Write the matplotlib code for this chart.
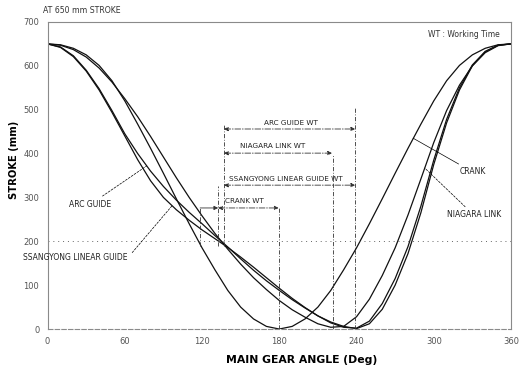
import matplotlib
matplotlib.use("Agg")
import matplotlib.pyplot as plt

# ---------------- data ----------------
angle = [0, 10, 20, 30, 40, 50, 60, 70, 80, 90, 100, 110, 120, 130, 140, 150, 160, 170,
         180, 190, 200, 210, 220, 230, 240, 250, 260, 270, 280, 290, 300, 310, 320, 330,
         340, 350, 360]
crank = [650, 648, 640, 625, 601, 566, 520, 467, 412, 355, 297, 240, 185, 135, 88, 50, 23, 6,
         0, 6, 23, 50, 88, 135, 185, 240, 297, 355, 412, 467, 520, 566, 601, 625,
         640, 648, 650]
niagara = [650, 647, 637, 620, 595, 563, 525, 484, 439, 392, 345, 300, 258, 218, 182, 148, 117, 90,
           65, 44, 27, 12, 4, 6, 28, 68, 122, 185, 260, 342, 425, 498, 556, 600,
           630, 646, 650]
arc_guide = [650, 643, 623, 590, 548, 498, 445, 400, 360, 325, 294, 266, 240, 213, 187, 160, 134, 110,
             88, 67, 48, 30, 16, 6, 1, 12, 45, 100, 172, 265, 375, 470, 545, 600,
             632, 647, 650]
ssangyong = [650, 642, 621, 588, 545, 494, 440, 386, 338, 300, 272, 248, 226, 206, 186, 164, 141, 117,
             93, 70, 49, 30, 14, 4, 2, 18, 58, 115, 188, 280, 385, 478, 550, 602,
             633, 647, 650]

x_ticks = [0, 60, 120, 180, 240, 300, 360]
y_ticks = [0, 100, 200, 300, 400, 500, 600, 700]

# working-time dimensions: (label, start deg, end deg, line level mm, label x deg, label level mm)
wt_dims = [("ARC GUIDE WT", 137, 239, 456, 189, 462),
           ("NIAGARA LINK WT", 137, 221, 401, 175, 410),
           ("SSANGYONG LINEAR GUIDE WT", 137, 239, 328, 185, 336),
           ("CRANK WT", 132.5, 179.5, 276, 153, 286)]
# vertical extension lines: (deg, bottom mm, top mm)
ext_lines = [(118.5, 190, 276), (132.5, 190, 325), (137, 190, 466),
             (180, 0, 276), (221.5, 0, 398), (239, 0, 505)]

# ---------------- figure ----------------
fig = plt.figure(figsize=(5.23, 3.66), dpi=100)
ax = fig.add_axes([0.091, 0.101, 0.886, 0.839])
ax.set_xlim(0, 360)
ax.set_ylim(0, 700)

lc = "#111111"
for s in (crank, niagara, arc_guide, ssangyong):
    ax.plot(angle, s, color=lc, lw=0.9)

ax.axhline(200, color="#666666", lw=0.7, ls=(0, (1, 4)))

dim_c = "#333333"
for x, y0, y1 in ext_lines:
    ax.plot([x, x], [y0, y1], color=dim_c, lw=0.6, ls=(0, (5, 2, 1, 2)))

for lab, a0, a1, yv, lx, ly in wt_dims:
    ax.annotate("", xy=(a1, yv), xytext=(a0, yv),
                arrowprops=dict(arrowstyle="<|-|>", color=dim_c, lw=0.6,
                                mutation_scale=6, shrinkA=0, shrinkB=0,
                                linestyle=(0, (7, 2, 1, 2))))
    ax.text(lx, ly, lab, fontsize=5.2, ha="center", va="bottom", color="#222222")

# small outside arrow of the crank dimension
ax.annotate("", xy=(132.5, 276), xytext=(118.5, 276),
            arrowprops=dict(arrowstyle="-|>", color=dim_c, lw=0.6,
                            mutation_scale=6, shrinkA=0, shrinkB=0))

ax.set_xticks(x_ticks)
ax.set_yticks(y_ticks)
ax.tick_params(labelsize=6, colors="#555555", length=0, pad=6)
for sp in ax.spines.values():
    sp.set_color("#8a8a8a")
    sp.set_linewidth(0.8)
ax.spines["bottom"].set_linestyle((0, (4, 2)))

ax.set_xlabel("MAIN GEAR ANGLE (Deg)", fontsize=7.8, fontweight="bold")
ax.xaxis.set_label_coords(0.549, -0.085)
ax.set_ylabel("STROKE (mm)", fontsize=7.2, fontweight="bold")
ax.yaxis.set_label_coords(-0.062, 0.55)

fig.text(0.083, 0.965, "AT 650 mm STROKE", fontsize=5.6, color="#333333")
ax.text(0.82, 0.95, "WT : Working Time", transform=ax.transAxes, fontsize=5.5,
        color="#333333")

lab_c = "#222222"
ax.annotate("ARC GUIDE", xy=(77, 372), xytext=(49, 283), fontsize=5.5, color=lab_c,
            ha="right", va="center",
            arrowprops=dict(arrowstyle="-", lw=0.5, ls=(0, (3, 2)), shrinkA=2, shrinkB=0))
ax.annotate("SSANGYONG LINEAR GUIDE", xy=(96.7, 281), xytext=(-19, 162), fontsize=5.5,
            color=lab_c, ha="left", va="center",
            arrowprops=dict(arrowstyle="-", lw=0.5, ls=(0, (3, 2)), shrinkA=2, shrinkB=0,
                            relpos=(1, 0.5)))
ax.annotate("CRANK", xy=(284, 435), xytext=(320, 358), fontsize=5.5, color=lab_c,
            ha="left", va="center",
            arrowprops=dict(arrowstyle="-", lw=0.5, shrinkA=1, shrinkB=0))
ax.annotate("NIAGARA LINK", xy=(293, 367), xytext=(310, 260), fontsize=5.5, color=lab_c,
            ha="left", va="center",
            arrowprops=dict(arrowstyle="-", lw=0.5, ls=(0, (3, 2)), shrinkA=1, shrinkB=0))

fig.savefig("out.png", dpi=100)
